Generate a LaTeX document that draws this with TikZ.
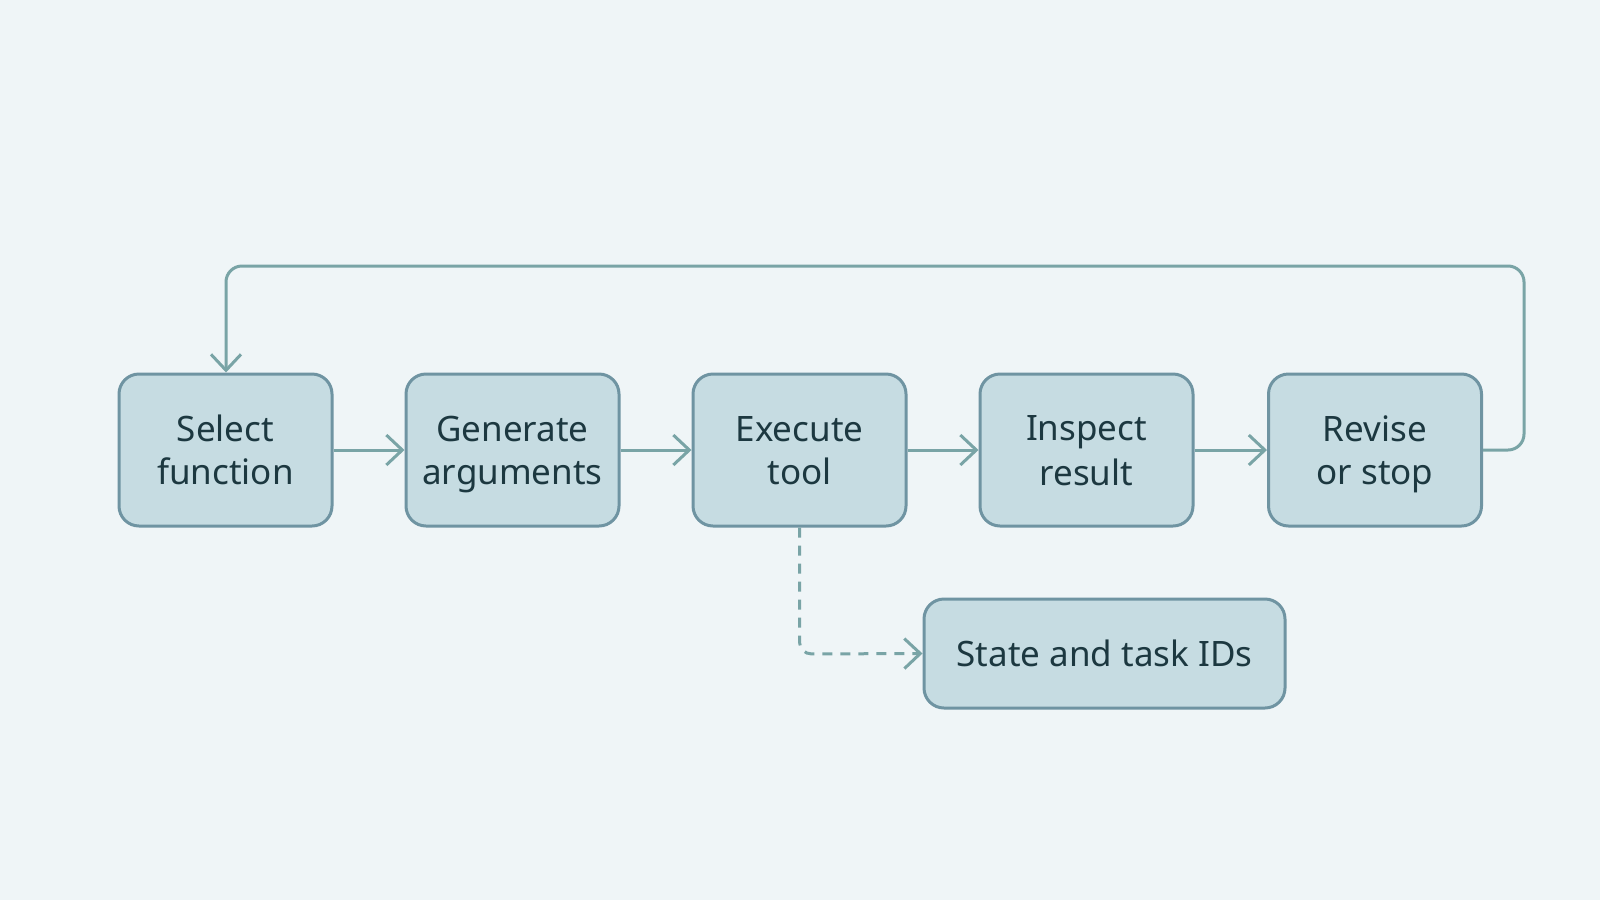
\documentclass[tikz,border=0pt]{standalone}
\usepackage{fontspec}
\setmainfont{Noto Sans}
\usetikzlibrary{arrows.meta,positioning}
\definecolor{bg}{HTML}{EFF5F7}
\definecolor{boxfill}{HTML}{C6DCE2}
\definecolor{boxline}{HTML}{6F94A2}
\definecolor{arrowc}{HTML}{79A4A6}
\definecolor{txt}{HTML}{1C3840}
\newcommand\lnstrut{\rule[-4.15pt]{0pt}{21.5pt}}
\tikzset{
  stepbox/.style={draw=boxline, fill=boxfill, line width=1.5pt, rounded corners=10pt,
    minimum width=106.5pt, minimum height=76pt, align=center, text=txt,
    font=\fontsize{17.5}{21.5}\selectfont, inner sep=0pt},
  statebox/.style={stepbox, minimum width=180.5pt, minimum height=54.5pt},
  flow/.style={draw=arrowc, line width=1.5pt, -{Straight Barb[length=8pt,width=15pt,line width=1.5pt]}},
  loopline/.style={flow, rounded corners=8pt},
  dashflow/.style={flow, dash pattern=on 5pt off 4pt, rounded corners=6pt},
}
\begin{document}
\begin{tikzpicture}[x=0.5pt,y=-0.5pt]
\fill[bg] (0,0) rectangle (1600,900);
\useasboundingbox (0,0) rectangle (1600,900);
\node[stepbox] (s1) at (225.5,450) {\lnstrut Select\\\lnstrut function};
\node[stepbox] (s2) at (512.5,450) {\lnstrut Generate\\\lnstrut arguments};
\node[stepbox] (s3) at (799.5,450) {\lnstrut Execute\\\lnstrut tool};
\node[stepbox] (s4) at (1086.5,450) {\lnstrut Inspect\\\lnstrut result};
\node[stepbox] (s5) at (1375,450) {\lnstrut Revise\\\lnstrut or stop};
\node[statebox] (st) at (1104.5,653.5) {\lnstrut State and task IDs};
\coordinate (lr) at (1524,266);
\coordinate (ll) at (226,266);
\coordinate (dc) at (799.5,654);
\draw[flow] (s1) -- (s2);
\draw[flow] (s2) -- (s3);
\draw[flow] (s3) -- (s4);
\draw[flow] (s4) -- (s5);
\draw[loopline] (s5.east) -- (s5.east -| lr) -- (lr) -- (ll) -- (ll |- s1.north);
\draw[dashflow] (s3.south) -- (dc) -- (st.west);
\end{tikzpicture}
\end{document}
